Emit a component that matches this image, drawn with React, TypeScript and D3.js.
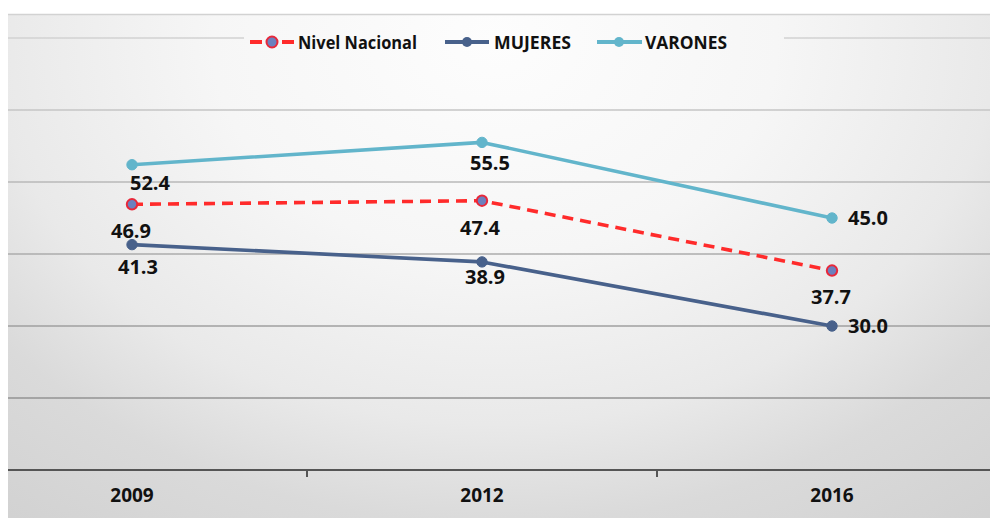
import { useMemo } from 'react'
import * as d3 from 'd3'

const years = ['2009', '2012', '2016']
const nacional = [46.9, 47.4, 37.7]
const mujeres = [41.3, 38.9, 30.0]
const varones = [52.4, 55.5, 45.0]
const gridTicks = [20, 30, 40, 50, 60, 70]

// manual label nudges (Excel-style hand placed labels)
const labelNudge = {
    nacional: [[-1, 26], [-2, 27], [-1, 26]],
    mujeres: [[6, 22], [3, 15], [36, 0]],
    varones: [[18, 18], [8, 20], [36, 0]],
}

const W = 990
const H = 518
const FONT = '"Open Sans", "Noto Sans", sans-serif'

export default function App() {
    const x = useMemo(() => d3.scaleBand().domain(years).range([-43, 1007]).padding(0), [])
    const y = useMemo(() => d3.scaleLinear().domain([10, 70]).range([470, 38]), [])
    const cx = (i: number) => (x(years[i]) ?? 0) + x.bandwidth() / 2

    const line = d3.line<number>().x((_, i) => cx(i)).y(d => y(d))

    const series = [
        { key: 'varones', values: varones, color: '#62b5cb', fill: '#62b5cb', stroke: '#62b5cb', dash: null },
        { key: 'nacional', values: nacional, color: '#ff2b2b', fill: '#6c80be', stroke: '#e8283a', dash: '11 7' },
        { key: 'mujeres', values: mujeres, color: '#48618b', fill: '#48618b', stroke: '#48618b', dash: null },
    ]

    const boundaries = x.domain().slice(1).map(d => x(d) ?? 0)

    return (
        <svg width={W} height={H} style={{ position: 'absolute', left: 0, top: 0 }} fontFamily={FONT}>
            <defs>
                <radialGradient id="bg" gradientUnits="userSpaceOnUse" cx={0} cy={0} r={620}
                    gradientTransform="translate(495,40) scale(1.3,1)">
                    <stop offset="0" stopColor="#fdfdfd" />
                    <stop offset="0.35" stopColor="#f6f6f6" />
                    <stop offset="0.62" stopColor="#e9e9e9" />
                    <stop offset="0.78" stopColor="#dadada" />
                    <stop offset="1" stopColor="#d1d1d1" />
                </radialGradient>
                <linearGradient id="grid" gradientUnits="userSpaceOnUse" x1={0} x2={0} y1={38} y2={400}>
                    <stop offset="0" stopColor="#d2d2d2" />
                    <stop offset="1" stopColor="#939393" />
                </linearGradient>
            </defs>
            <rect x={0} y={0} width={W} height={H} fill="#fff" />
            <rect x={8} y={14} width={W - 8} height={H - 14} fill="url(#bg)" />
            <line x1={8} x2={W} y1={14.5} y2={14.5} stroke="#d2d2d2" strokeWidth={1.5} />

            {gridTicks.map(t => (
                <rect key={t} x={8} width={W - 8} y={y(t) - 0.75} height={1.5} fill="url(#grid)" />
            ))}
            <line x1={8} x2={W} y1={y(10)} y2={y(10)} stroke="#555" strokeWidth={2.2} />
            {boundaries.map((b, i) => (
                <line key={i} x1={b} x2={b} y1={y(10)} y2={y(10) + 7} stroke="#555" strokeWidth={2} />
            ))}
            {years.map((yr, i) => (
                <text key={yr} x={cx(i)} y={502} textAnchor="middle" fontSize={19} fontWeight={700} fill="#111">
                    {yr}
                </text>
            ))}

            {/* legend */}
            <rect x={244} y={24} width={540} height={34} fill="url(#bg)" />
            <g fontSize={18.5} fontWeight={700} fill="#111">
                <line x1={250} x2={262} y1={42} y2={42} stroke="#ff2b2b" strokeWidth={4} />
                <line x1={282} x2={294} y1={42} y2={42} stroke="#ff2b2b" strokeWidth={4} />
                <circle cx={272} cy={42} r={5.5} fill="#6c80be" stroke="#e8283a" strokeWidth={2} />
                <text x={298} y={48.5} textLength={119} lengthAdjust="spacingAndGlyphs">Nivel Nacional</text>
                <line x1={445} x2={489} y1={42} y2={42} stroke="#48618b" strokeWidth={4} />
                <circle cx={467} cy={42} r={5} fill="#48618b" />
                <text x={494} y={48.5} textLength={77} lengthAdjust="spacingAndGlyphs">MUJERES</text>
                <line x1={597} x2={642} y1={42} y2={42} stroke="#62b5cb" strokeWidth={4} />
                <circle cx={619} cy={42} r={5} fill="#62b5cb" />
                <text x={645} y={48.5} textLength={82} lengthAdjust="spacingAndGlyphs">VARONES</text>
            </g>

            {series.map(s => (
                <g key={s.key}>
                    <path d={line(s.values) ?? ''} fill="none" stroke={s.color} strokeWidth={3.6}
                        strokeDasharray={s.dash ?? undefined} strokeLinejoin="round" />
                    {s.values.map((v, i) => (
                        <circle key={i} cx={cx(i)} cy={y(v)} r={5.2} fill={s.fill} stroke={s.stroke} strokeWidth={s.key === 'nacional' ? 2 : 1} />
                    ))}
                </g>
            ))}
            {series.map(s => s.values.map((v, i) => {
                const [dx, dy] = (labelNudge as any)[s.key][i]
                return (
                    <text key={s.key + i} x={cx(i) + dx} y={y(v) + dy} dy="0.36em" textAnchor="middle"
                        fontSize={20} fontWeight={700} fill="#111">
                        {v.toFixed(1)}
                    </text>
                )
            }))}
        </svg>
    )
}
